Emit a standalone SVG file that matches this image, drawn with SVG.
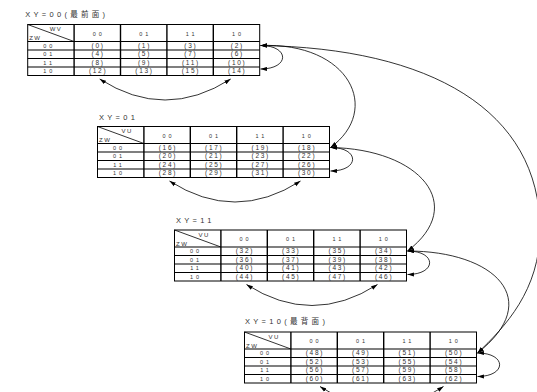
<svg xmlns="http://www.w3.org/2000/svg" width="537" height="392" viewBox="0 0 537 392">
<style>
text{font-family:"Liberation Sans","Noto Sans CJK SC",Arial,sans-serif;fill:#333}
.t{font-size:7.5px;letter-spacing:3.3px}
.h{font-size:5.5px;letter-spacing:3px;text-anchor:middle}
.r{font-size:5.5px;letter-spacing:3px;text-anchor:middle}
.c{font-size:6.5px;letter-spacing:1.7px;text-anchor:middle}
.k{font-size:6px;letter-spacing:1.5px}
.box{fill:#fff;stroke:#000;stroke-width:1}
.vl{stroke:#000;stroke-width:1.4}
.hl{stroke:#000;stroke-width:1.2}
.dg{stroke:#000;stroke-width:0.8}
.cn{fill:none;stroke:#000;stroke-width:0.8;marker-start:url(#ah);marker-end:url(#ah)}
</style>
<defs>
<marker id="ah" markerUnits="userSpaceOnUse" markerWidth="7" markerHeight="5" refX="5.5" refY="1.8" orient="auto-start-reverse" viewBox="0 0 6 3.6">
<path d="M0,0 L5.5,1.8 L0,3.6 z" fill="#000"/>
</marker>
<g id="grid">
<rect class="box" x="0" y="0" width="232" height="51"/>
<line class="dg" x1="0" y1="0" x2="46.4" y2="17"/>
<line class="hl" x1="0" y1="17" x2="232" y2="17"/>
<line class="hl" x1="0" y1="25.5" x2="232" y2="25.5"/>
<line class="hl" x1="0" y1="34" x2="232" y2="34"/>
<line class="hl" x1="0" y1="42.5" x2="232" y2="42.5"/>
<line class="vl" x1="46.4" y1="0" x2="46.4" y2="51"/>
<line class="vl" x1="92.8" y1="0" x2="92.8" y2="51"/>
<line class="vl" x1="139.2" y1="0" x2="139.2" y2="51"/>
<line class="vl" x1="185.6" y1="0" x2="185.6" y2="51"/>
<text class="k" x="1.5" y="15.5">ZW</text>
<text class="h" x="71.1" y="11">00</text>
<text class="h" x="117.5" y="11">01</text>
<text class="h" x="163.9" y="11">11</text>
<text class="h" x="210.3" y="11">10</text>
<text class="r" x="21.5" y="23.3">00</text>
<text class="r" x="21.5" y="31.8">01</text>
<text class="r" x="21.5" y="40.3">11</text>
<text class="r" x="21.5" y="48.8">10</text>
</g>
</defs>

<g id="table-xy00" transform="translate(27.7,24.5)">
<text class="t" x="-2.5" y="-8">XY=00(最前面)</text>
<use href="#grid"/>
<text class="k" x="22" y="6.5">WV</text>
<g>
<text class="c" x="70.4" y="23.3">(0)</text><text class="c" x="116.8" y="23.3">(1)</text><text class="c" x="163.2" y="23.3">(3)</text><text class="c" x="209.6" y="23.3">(2)</text>
<text class="c" x="70.4" y="31.8">(4)</text><text class="c" x="116.8" y="31.8">(5)</text><text class="c" x="163.2" y="31.8">(7)</text><text class="c" x="209.6" y="31.8">(6)</text>
<text class="c" x="70.4" y="40.3">(8)</text><text class="c" x="116.8" y="40.3">(9)</text><text class="c" x="163.2" y="40.3">(11)</text><text class="c" x="209.6" y="40.3">(10)</text>
<text class="c" x="70.4" y="48.8">(12)</text><text class="c" x="116.8" y="48.8">(13)</text><text class="c" x="163.2" y="48.8">(15)</text><text class="c" x="209.6" y="48.8">(14)</text>
</g>
</g>

<g id="table-xy01" transform="translate(97.5,126.5)">
<text class="t" x="1.5" y="-7">XY=01</text>
<use href="#grid"/>
<text class="k" x="24" y="6.5">VU</text>
<g>
<text class="c" x="70.4" y="23.3">(16)</text><text class="c" x="116.8" y="23.3">(17)</text><text class="c" x="163.2" y="23.3">(19)</text><text class="c" x="209.6" y="23.3">(18)</text>
<text class="c" x="70.4" y="31.8">(20)</text><text class="c" x="116.8" y="31.8">(21)</text><text class="c" x="163.2" y="31.8">(23)</text><text class="c" x="209.6" y="31.8">(22)</text>
<text class="c" x="70.4" y="40.3">(24)</text><text class="c" x="116.8" y="40.3">(25)</text><text class="c" x="163.2" y="40.3">(27)</text><text class="c" x="209.6" y="40.3">(26)</text>
<text class="c" x="70.4" y="48.8">(28)</text><text class="c" x="116.8" y="48.8">(29)</text><text class="c" x="163.2" y="48.8">(31)</text><text class="c" x="209.6" y="48.8">(30)</text>
</g>
</g>

<g id="table-xy11" transform="translate(174.5,230)">
<text class="t" x="1.5" y="-7.5">XY=11</text>
<use href="#grid"/>
<text class="k" x="24" y="6.5">VU</text>
<g>
<text class="c" x="70.4" y="23.3">(32)</text><text class="c" x="116.8" y="23.3">(33)</text><text class="c" x="163.2" y="23.3">(35)</text><text class="c" x="209.6" y="23.3">(34)</text>
<text class="c" x="70.4" y="31.8">(36)</text><text class="c" x="116.8" y="31.8">(37)</text><text class="c" x="163.2" y="31.8">(39)</text><text class="c" x="209.6" y="31.8">(38)</text>
<text class="c" x="70.4" y="40.3">(40)</text><text class="c" x="116.8" y="40.3">(41)</text><text class="c" x="163.2" y="40.3">(43)</text><text class="c" x="209.6" y="40.3">(42)</text>
<text class="c" x="70.4" y="48.8">(44)</text><text class="c" x="116.8" y="48.8">(45)</text><text class="c" x="163.2" y="48.8">(47)</text><text class="c" x="209.6" y="48.8">(46)</text>
</g>
</g>

<g id="table-xy10" transform="translate(244.5,332)">
<text class="t" x="0.5" y="-8">XY=10(最背面)</text>
<use href="#grid"/>
<text class="k" x="24" y="6.5">VU</text>
<g>
<text class="c" x="70.4" y="23.3">(48)</text><text class="c" x="116.8" y="23.3">(49)</text><text class="c" x="163.2" y="23.3">(51)</text><text class="c" x="209.6" y="23.3">(50)</text>
<text class="c" x="70.4" y="31.8">(52)</text><text class="c" x="116.8" y="31.8">(53)</text><text class="c" x="163.2" y="31.8">(55)</text><text class="c" x="209.6" y="31.8">(54)</text>
<text class="c" x="70.4" y="40.3">(56)</text><text class="c" x="116.8" y="40.3">(57)</text><text class="c" x="163.2" y="40.3">(59)</text><text class="c" x="209.6" y="40.3">(58)</text>
<text class="c" x="70.4" y="48.8">(60)</text><text class="c" x="116.8" y="48.8">(61)</text><text class="c" x="163.2" y="48.8">(63)</text><text class="c" x="209.6" y="48.8">(62)</text>
</g>
</g>

<g id="connectors">
<!-- bottom arcs -->
<path class="cn" d="M99.7,79 Q165,121 230.7,79"/>
<path class="cn" d="M169.5,181 Q235,223 300.5,181"/>
<path class="cn" d="M246.5,284.5 Q312,326.5 377.5,284.5"/>
<path class="cn" d="M320,386.5 Q382,428 443.5,386.5"/>
<!-- side loops -->
<path class="cn" d="M260.5,45.5 C290,45.5 290,69 260.5,69"/>
<path class="cn" d="M330.5,147.5 C360,147.5 360,171 330.5,171"/>
<path class="cn" d="M407.5,251 C437,251 437,274.5 407.5,274.5"/>
<path class="cn" d="M477.5,353 C507,353 507,376.5 477.5,376.5"/>
<!-- inter-layer curves -->
<path class="cn" d="M260.5,45.5 C350,42 382,110 330.5,147.5"/>
<path class="cn" d="M330.5,147.5 C420,149 468,205 407.5,251"/>
<path class="cn" d="M407.5,251 C495,251 545,300 477.5,353"/>
<path class="cn" d="M260.5,45.5 C430,48 540,110 540,230 C540,290 505,327 477.5,353"/>
</g>
</svg>
